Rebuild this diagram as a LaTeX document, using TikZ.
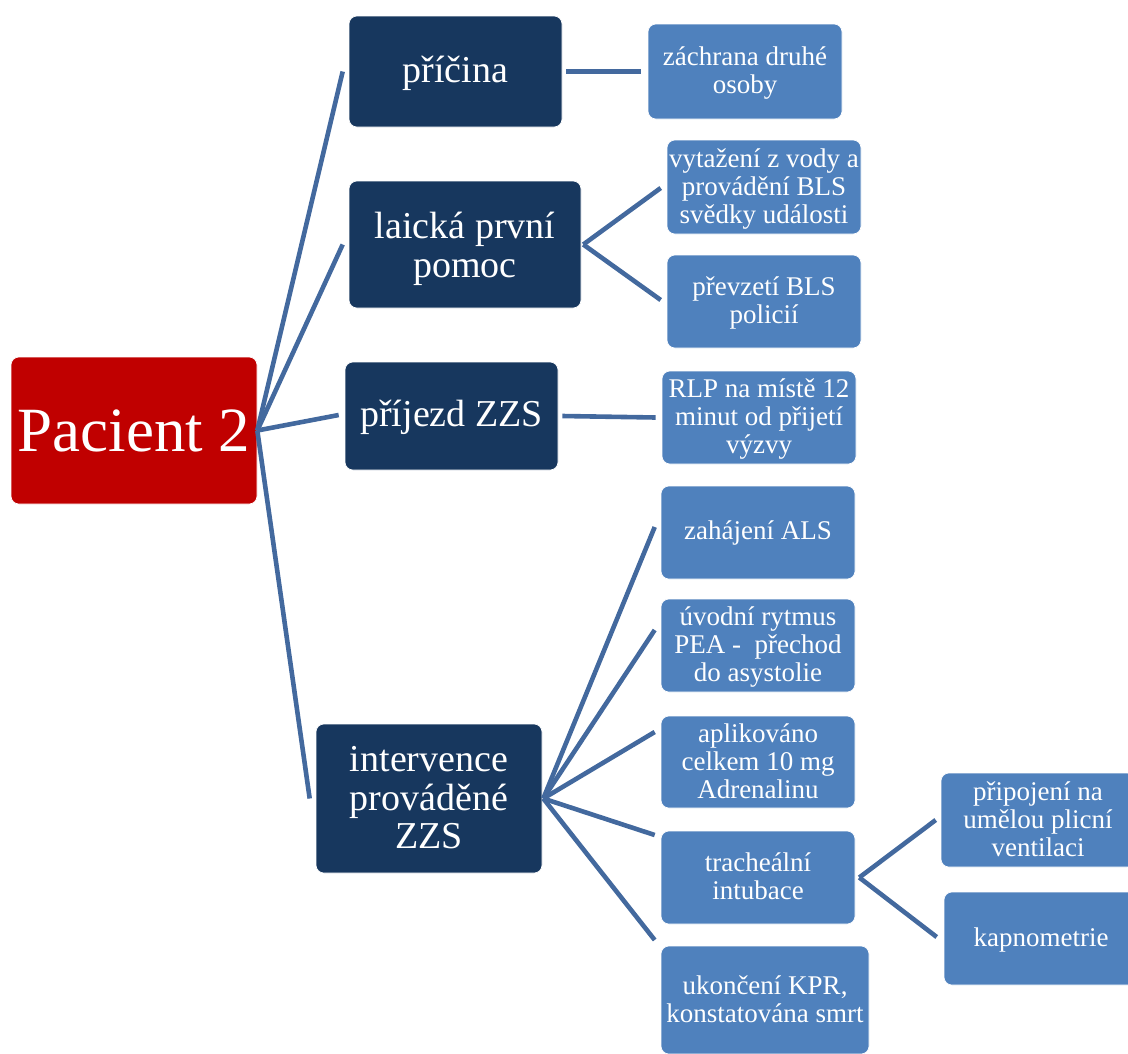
\documentclass[tikz,border=0pt]{standalone}
\usepackage{fontspec}
\setmainfont{Liberation Serif}
\usetikzlibrary{calc}
\definecolor{rootred}{HTML}{C00000}
\definecolor{navy}{HTML}{17375E}
\definecolor{leafblue}{HTML}{4F81BD}
\definecolor{linkblue}{HTML}{43699E}
% centred lines of text, lowered a little without changing the box size
\newcommand\lines[2][2.5pt]{\raisebox{-#1}[\height][\depth]{\begin{tabular}{@{}c@{}}#2\end{tabular}}}
\tikzset{
  box/.style={rounded corners=8pt, draw=white, line width=0.6pt, text=white,
    align=center, inner sep=2pt},
  rootbox/.style={box, fill=rootred, font=\fontsize{63}{66}\selectfont},
  midbox/.style={box, fill=navy, font=\fontsize{38}{38.5}\selectfont},
  leafbox/.style={box, fill=leafblue, font=\fontsize{27}{28}\selectfont},
  link/.style={draw=linkblue, line width=4.6pt},
}
\begin{document}
\begin{tikzpicture}[x=1pt,y=-1pt]
\useasboundingbox (0,0) rectangle (1128,1053);

% root
\node[rootbox, minimum width=246pt, minimum height=147pt] (root) at (134,430.5) {Pacient 2};

% second level
\node[midbox, minimum width=213pt, minimum height=111pt] (pricina) at (455.5,71.5) {\lines[3pt]{příčina}};
\node[midbox, minimum width=232pt, minimum height=127pt] (laicka) at (465,244.5) {\lines[6pt]{laická první\\pomoc}};
\node[midbox, minimum width=213pt, minimum height=108pt] (prijezd) at (451.5,416) {\lines[3pt]{příjezd ZZS}};
\node[midbox, minimum width=226pt, minimum height=149pt] (interv) at (429,798.5) {\lines[4pt]{intervence\\prováděné\\ZZS}};

% third level
\node[leafbox, minimum width=194pt, minimum height=95pt] (zachrana) at (745,71.5) {\lines{záchrana druhé\\osoby}};
\node[leafbox, minimum width=194pt, minimum height=94pt] (vytazeni) at (764,187) {\lines{vytažení z vody a\\provádění BLS\\svědky události}};
\node[leafbox, minimum width=194pt, minimum height=93pt] (prevzeti) at (764,301.5) {\lines{převzetí BLS\\policií}};
\node[leafbox, minimum width=194pt, minimum height=93pt] (rlp) at (759,417.5) {\lines{RLP na místě 12\\minut od přijetí\\výzvy}};
\node[leafbox, minimum width=194pt, minimum height=93pt] (zahajeni) at (758,532.5) {\lines[1pt]{zahájení ALS}};
\node[leafbox, minimum width=194pt, minimum height=93pt] (uvodni) at (758,645.5) {\lines{úvodní rytmus\\PEA -\ \ přechod\\do asystolie}};
\node[leafbox, minimum width=194pt, minimum height=92pt] (aplik) at (758,762) {\lines{aplikováno\\celkem 10 mg\\Adrenalinu}};
\node[leafbox, minimum width=194pt, minimum height=93pt] (trach) at (758,877.5) {\lines{tracheální\\intubace}};
\node[leafbox, minimum width=208pt, minimum height=108pt] (ukonc) at (765,1000) {\lines{ukončení KPR,\\konstatována smrt}};

% fourth level
\node[leafbox, minimum width=194pt, minimum height=94pt] (pripoj) at (1038,820) {\lines{připojení na\\umělou plicní\\ventilaci}};
\node[leafbox, minimum width=194pt, minimum height=93pt] (kapno) at (1041,938.5) {\lines{kapnometrie}};

% connectors from the root
\draw[link] (root.east) -- ($(pricina.west)+(-6,0)$);
\draw[link] (root.east) -- ($(laicka.west)+(-6,0)$);
\draw[link] (root.east) -- ($(prijezd.west)+(-6,-1)$);
\draw[link] (root.east) -- ($(interv.west)+(-6,0)$);

% connectors to the third level
\draw[link] ($(pricina.east)+(4,0)$) -- ($(zachrana.west)+(-7,0)$);
\draw[link] ($(laicka.east)+(2,0)$) -- ($(vytazeni.west)+(-6,1)$);
\draw[link] ($(laicka.east)+(2,0)$) -- ($(prevzeti.west)+(-6,-1.5)$);
\draw[link] ($(prijezd.east)+(4,0)$) -- ($(rlp.west)+(-6,0)$);
\draw[link] ($(interv.east)+(1,0)$) -- ($(zahajeni.west)+(-6,-5.5)$);
\draw[link] ($(interv.east)+(1,0)$) -- ($(uvodni.west)+(-6,-15.5)$);
\draw[link] ($(interv.east)+(1,0)$) -- ($(aplik.west)+(-6,-30)$);
\draw[link] ($(interv.east)+(1,0)$) -- ($(trach.west)+(-6,-42.5)$);
\draw[link] ($(interv.east)+(1,0)$) -- ($(ukonc.west)+(-6,-60)$);

% connectors to the fourth level
\draw[link] ($(trach.east)+(4,0)$) -- ($(pripoj.west)+(-5,0)$);
\draw[link] ($(trach.east)+(4,0)$) -- ($(kapno.west)+(-7,-1.5)$);
\end{tikzpicture}
\end{document}
